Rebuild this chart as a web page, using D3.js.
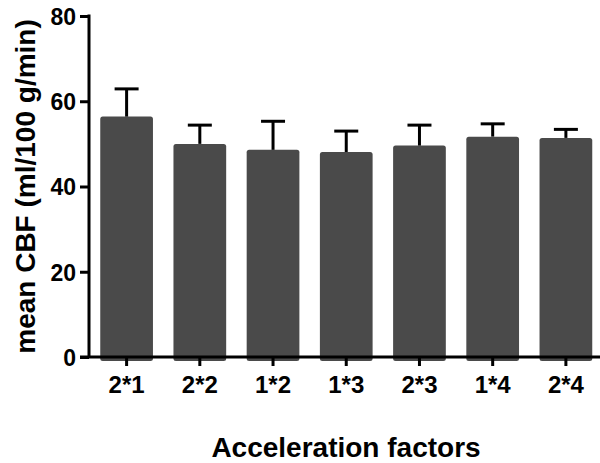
<!DOCTYPE html>
<html>
<head>
<meta charset="utf-8">
<script src="https://cdn.jsdelivr.net/npm/d3@7"></script>
<style>
  html, body { margin: 0; padding: 0; background: #fff; }
  svg { display: block; font-family: "Liberation Sans", Arial, sans-serif; font-weight: bold; }
</style>
</head>
<body>
<svg id="chart" width="600" height="463"></svg>
<script>
const categories = ["2*1", "2*2", "1*2", "1*3", "2*3", "1*4", "2*4"];
const meanValues = [56.4, 50.0, 48.6, 48.1, 49.6, 51.7, 51.4];
const errorTops = [62.9, 54.4, 55.3, 53.0, 54.4, 54.7, 53.4];
const yTicks = [0, 20, 40, 60, 80];
const xTitle = "Acceleration factors";
const yTitle = "mean CBF (ml/100 g/min)";

const svg = d3.select("#chart");
const x0 = 89, yTop = 16, yBottom = 357;

const x = d3.scaleBand().domain(categories).range([90, 602.5]).paddingInner(0.28).paddingOuter(0.14);
const y = d3.scaleLinear().domain([0, 80]).range([yBottom, yTop]);

const barColor = "#4a4a4a";

// bars
svg.append("g").selectAll("rect").data(categories).join("rect")
  .attr("x", d => x(d))
  .attr("y", (d, i) => y(meanValues[i]))
  .attr("width", x.bandwidth())
  .attr("height", (d, i) => yBottom - y(meanValues[i]) + 4)
  .attr("rx", 2.5)
  .attr("fill", barColor);

// error bars
const eg = svg.append("g").attr("stroke", "#000").attr("stroke-width", 3).attr("fill", "none");
categories.forEach((c, i) => {
  const cx = x(c) + x.bandwidth() / 2;
  eg.append("line").attr("x1", cx).attr("x2", cx).attr("y1", y(meanValues[i])).attr("y2", y(errorTops[i]));
  eg.append("line").attr("x1", cx - 12).attr("x2", cx + 12).attr("y1", y(errorTops[i])).attr("y2", y(errorTops[i]));
});

// y axis
const yAxis = d3.axisLeft(y).tickValues(yTicks).tickSize(9).tickPadding(4).tickSizeOuter(0);
const yg = svg.append("g").attr("transform", `translate(${x0},0)`).call(yAxis);
yg.select(".domain").attr("stroke", "#000").attr("stroke-width", 3).attr("d", `M0,${yTop - 1.5}V${yBottom}`);
yg.selectAll(".tick line").attr("stroke", "#000").attr("stroke-width", 3);
yg.selectAll(".tick text").attr("fill", "#000").style("font-size", "23px").style("font-weight", "bold")
  .style("font-family", "'Liberation Sans', Arial, sans-serif").attr("dy", "0.36em");

// x axis
const xAxis = d3.axisBottom(x).tickSize(9).tickPadding(10).tickSizeOuter(0);
const xg = svg.append("g").attr("transform", `translate(0,${yBottom})`).call(xAxis);
xg.select(".domain").attr("stroke", "#000").attr("stroke-width", 3).attr("d", "M80,0H600");
xg.selectAll(".tick line").attr("stroke", "#000").attr("stroke-width", 3);
xg.selectAll(".tick text").attr("fill", "#000").style("font-size", "24px").style("font-weight", "bold")
  .style("font-family", "'Liberation Sans', Arial, sans-serif");

// titles
svg.append("text")
  .attr("x", 346).attr("y", 457)
  .attr("text-anchor", "middle")
  .style("font-size", "28px")
  .attr("fill", "#000")
  .text(xTitle);

svg.append("text")
  .attr("transform", `translate(35,${(yTop + yBottom) / 2}) rotate(-90)`)
  .attr("text-anchor", "middle")
  .style("font-size", "28px")
  .attr("fill", "#000")
  .text(yTitle);
</script>
</body>
</html>
